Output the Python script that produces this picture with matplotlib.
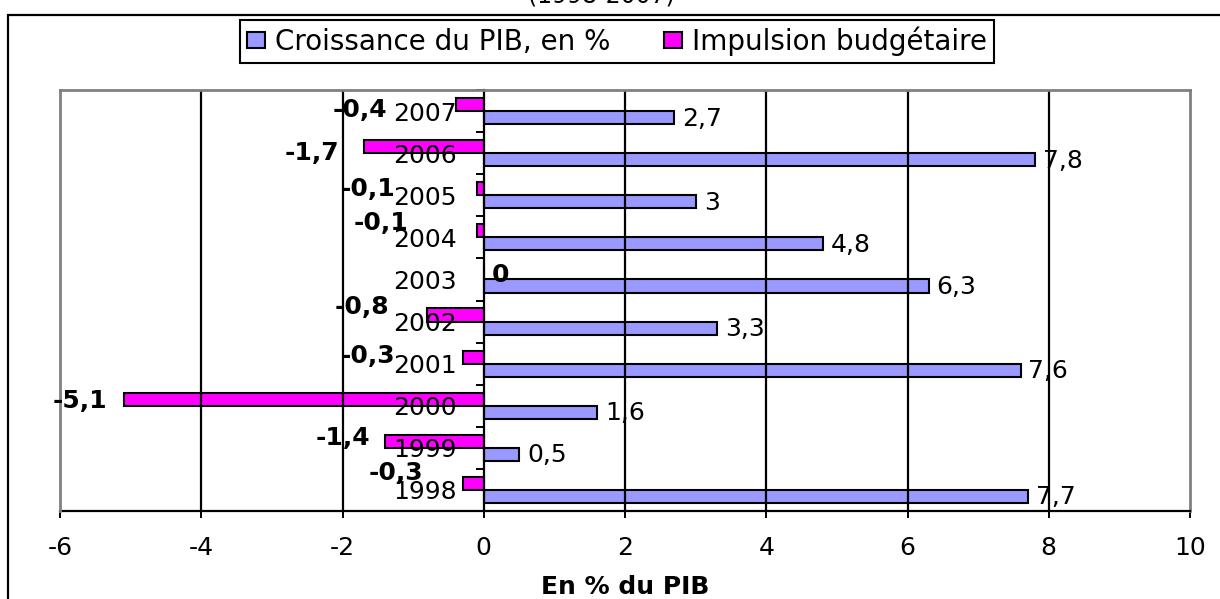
import matplotlib
matplotlib.use("Agg")
import matplotlib.pyplot as plt
from matplotlib.patches import Rectangle
import numpy as np

years = [1998, 1999, 2000, 2001, 2002, 2003, 2004, 2005, 2006, 2007]
croissance_pib = [7.7, 0.5, 1.6, 7.6, 3.3, 6.3, 4.8, 3.0, 7.8, 2.7]
impulsion_budgetaire = [-0.3, -1.4, -5.1, -0.3, -0.8, 0.0, -0.1, -0.1, -1.7, -0.4]
x_ticks = [-6, -4, -2, 0, 2, 4, 6, 8, 10]

# hand-placed nudges (pixels) for the bold impulsion labels, same order as years
impulsion_label_offsets = [(-39, 10), (-15, 3), (-16, -2), (-67, 1), (-38, 8),
                           (8, -2), (-68, 8), (-81, 0), (-24, -6), (-68, -5)]

plt.rcParams["font.family"] = "DejaVu Sans"
plt.rcParams["axes.unicode_minus"] = False


def fr(v):
    return f"{v:g}".replace(".", ",")


fig = plt.figure(figsize=(12.2, 5.99), dpi=100)
ax = fig.add_axes([60 / 1220, 1 - 511 / 599, 1130 / 1220, 421 / 599])

y = np.arange(len(years))
h = 0.31
bars_pib = ax.barh(y - h / 2, croissance_pib, height=h, color="#9999ff",
                   edgecolor="black", linewidth=1.5, label="Croissance du PIB, en %", zorder=1)
bars_imp = ax.barh(y + h / 2, impulsion_budgetaire, height=h, color="#ff00ff",
                   edgecolor="black", linewidth=1.5, label="Impulsion budgétaire", zorder=1)

ax.set_xlim(-6, 10)
ax.set_ylim(-0.5, len(years) - 0.5)

# vertical gridlines drawn over the bars
for xv in x_ticks[1:-1]:
    if xv != 0:
        ax.axvline(xv, color="black", lw=1.6, zorder=1.5)

# grey plot-area frame, black axes
ax.spines["left"].set_position(("data", 0))
ax.spines["left"].set_linewidth(1.6)
ax.spines["bottom"].set_linewidth(1.6)
for s in ("top", "right"):
    ax.spines[s].set_color("#808080")
    ax.spines[s].set_linewidth(2)
ax.axvline(-6, color="#808080", lw=2, zorder=3, clip_on=False)

ax.set_xticks(x_ticks)
ax.tick_params(axis="x", direction="out", length=5, width=1.4, pad=13, labelsize=18)
ax.set_yticks(np.arange(-0.5, len(years)), labels=[])
ax.tick_params(axis="y", which="major", direction="out", length=6, width=1.4)
ax.set_yticks(y, labels=[str(yr) for yr in years], minor=True)
ax.tick_params(axis="y", which="minor", length=0, pad=19.5, labelsize=18)

for yi, v in zip(y, croissance_pib):
    ax.annotate(fr(v), xy=(v, yi - h / 2), xytext=(8, -1), textcoords="offset pixels",
                ha="left", va="center", fontsize=18, zorder=4)

for yi, v, off in zip(y, impulsion_budgetaire, impulsion_label_offsets):
    ax.annotate(fr(v), xy=(v, yi + h / 2), xytext=off, textcoords="offset pixels",
                ha="right" if v < 0 else "left", va="center",
                fontsize=18, fontweight="bold", zorder=4)

ax.set_xlabel("En % du PIB", fontsize=18, fontweight="bold")
ax.xaxis.set_label_coords(0.5, (511 - 587) / 421)
ax.xaxis.label.set_va("center")

leg = fig.legend(handles=[bars_pib, bars_imp], loc="center",
                 bbox_to_anchor=(617 / 1220, 1 - 41.5 / 599), ncol=2, fontsize=20,
                 frameon=True, fancybox=False, edgecolor="black", framealpha=1,
                 handlelength=0.65, handleheight=0.5, handletextpad=0.36,
                 columnspacing=1.9, borderpad=0.25)
leg.get_frame().set_linewidth(1.5)

# outer chart frame, running off the right and bottom edges
fig.add_artist(Rectangle((8 / 1220, -0.1), 1.2, 1 - 15 / 599 + 0.1,
                         transform=fig.transFigure, fill=False,
                         edgecolor="black", lw=1.6))
fig.text(601 / 1220, 1 - 2 / 599, "(1998-2007)", ha="center", va="baseline", fontsize=17)

fig.savefig("out.png", dpi=100)
